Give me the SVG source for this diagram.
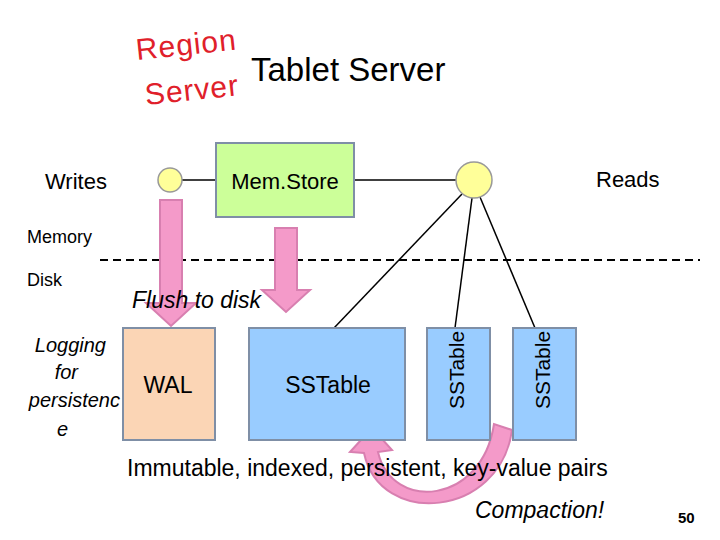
<svg xmlns="http://www.w3.org/2000/svg" width="720" height="540" viewBox="0 0 720 540">
<style>
text{font-family:"Liberation Sans",Arial,sans-serif;fill:#000}
.box{stroke:#7f8fa6;stroke-width:2}
.pink{fill:#f49ac9;stroke:#d87fb0;stroke-width:2}
.ln{stroke:#000;stroke-width:1.5;fill:none}
.it{font-style:italic}
</style>
<rect width="720" height="540" fill="#fff"/>
<g id="title">
<text x="137" y="60" font-size="30" style="fill:#e0202a;letter-spacing:1px" transform="rotate(-6 137 60)">Region</text>
<text x="146" y="105" font-size="30" style="fill:#e0202a;letter-spacing:1px" transform="rotate(-6 146 105)">Server</text>
<text x="251" y="81" font-size="33">Tablet Server</text>
</g>
<g id="connectors">
<line class="ln" x1="182" y1="180" x2="216" y2="180"/>
<line class="ln" x1="354" y1="180" x2="456" y2="180"/>
<line class="ln" x1="462" y1="194" x2="334" y2="328"/>
<line class="ln" x1="472" y1="198" x2="455" y2="328"/>
<line class="ln" x1="480" y1="197" x2="535" y2="328"/>
<line x1="100" y1="260" x2="700" y2="260" stroke="#000" stroke-width="2" stroke-dasharray="8,5"/>
<path class="pink" d="M160 200 H182 V303 H196 L171 326 L146 303 H160 Z"/>
<path class="pink" d="M275 228 H297 V290 H310 L286 312 L262 290 H275 Z"/>
<path class="pink" d="M494 424 C482 505 392 512 378 452 L392 450 L372 428 L350 452 L364 453 C380 528 500 518 512 430 Z"/>
</g>
<g id="labels">
<text x="45" y="189" font-size="22">Writes</text>
<text x="596" y="187" font-size="22">Reads</text>
<text x="27" y="243" font-size="18">Memory</text>
<text x="27" y="286" font-size="18">Disk</text>
<text x="132" y="308" font-size="23" class="it">Flush to disk</text>
<g class="it" font-size="20" text-anchor="end"><text x="106" y="352">Logging</text><text x="78" y="379">for</text><text x="120" y="407">persistenc</text><text x="68" y="436">e</text></g>
<text x="127" y="476" font-size="23">Immutable, indexed, persistent, key-value pairs</text>
<text x="475" y="518" font-size="23" class="it">Compaction!</text>
<text x="678" y="523" font-size="15" font-weight="bold">50</text>
</g>
<g id="w-circle"><circle cx="170" cy="180" r="12" fill="#ffff99" stroke="#999" stroke-width="1.5"/></g>
<g id="r-circle"><circle cx="474" cy="180" r="18" fill="#ffff99" stroke="#999" stroke-width="1.5"/></g>
<g id="memstore"><rect class="box" x="216" y="143" width="138" height="74" fill="#ccff99"/><text x="285" y="189" font-size="22" text-anchor="middle">Mem.Store</text></g>
<g id="wal"><rect class="box" x="123" y="328" width="92" height="112" fill="#fbd5b5"/><text x="168" y="393" font-size="23" text-anchor="middle">WAL</text></g>
<g id="sst1"><rect class="box" x="249" y="328" width="156" height="112" fill="#99ccff"/><text x="328" y="393" font-size="23" text-anchor="middle">SSTable</text></g>
<g id="sst2"><rect class="box" x="427" y="328" width="63" height="112" fill="#99ccff"/><text transform="translate(464 370) rotate(-90)" font-size="21" text-anchor="middle">SSTable</text></g>
<g id="sst3"><rect class="box" x="513" y="328" width="63" height="112" fill="#99ccff"/><text transform="translate(550 370) rotate(-90)" font-size="21" text-anchor="middle">SSTable</text></g>
</svg>
